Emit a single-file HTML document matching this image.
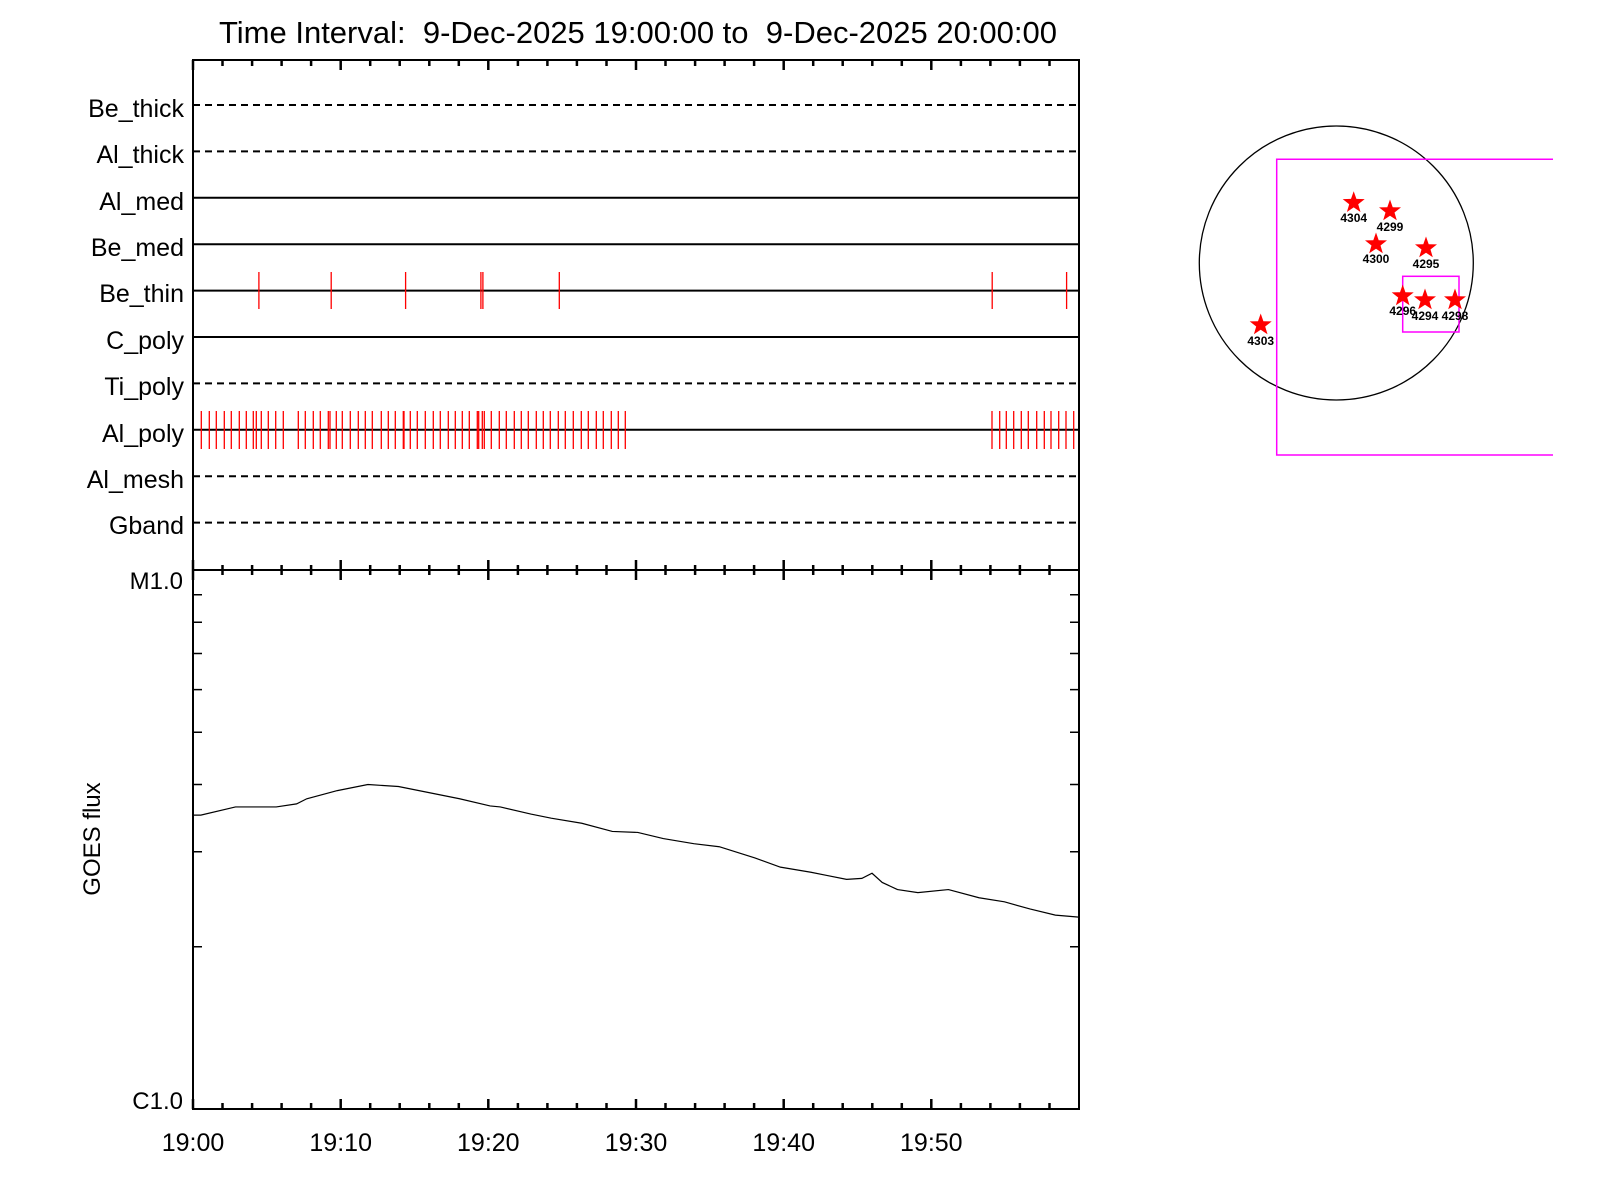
<!DOCTYPE html>
<html><head><meta charset="utf-8"><style>
html,body{margin:0;padding:0;background:#fff;}
svg{display:block;font-family:"Liberation Sans",sans-serif;}
</style></head><body>
<svg width="1600" height="1200" viewBox="0 0 1600 1200" xmlns="http://www.w3.org/2000/svg">
<defs>
<polygon id="star" points="0,-11.5 2.7,-3.8 11,-3.6 4.5,1.5 6.8,9.3 0,4.7 -6.8,9.3 -4.5,1.5 -11,-3.6 -2.7,-3.8"/>
</defs>
<rect width="1600" height="1200" fill="#fff"/>
<text x="219" y="43" font-size="31" textLength="838" lengthAdjust="spacingAndGlyphs">Time Interval:&#160; 9-Dec-2025 19:00:00 to&#160; 9-Dec-2025 20:00:00</text>
<g font-size="25" text-anchor="end">
<text x="184" y="117">Be_thick</text>
<text x="184" y="163">Al_thick</text>
<text x="184" y="210">Al_med</text>
<text x="184" y="256">Be_med</text>
<text x="184" y="302">Be_thin</text>
<text x="184" y="349">C_poly</text>
<text x="184" y="395">Ti_poly</text>
<text x="184" y="442">Al_poly</text>
<text x="184" y="488">Al_mesh</text>
<text x="184" y="534">Gband</text>
</g>
<g stroke="#000" stroke-width="2" fill="none">
<line x1="193" y1="105" x2="1079" y2="105" stroke-dasharray="7,5"/>
<line x1="193" y1="151.4" x2="1079" y2="151.4" stroke-dasharray="7,5"/>
<line x1="193" y1="197.8" x2="1079" y2="197.8"/>
<line x1="193" y1="244.2" x2="1079" y2="244.2"/>
<line x1="193" y1="290.6" x2="1079" y2="290.6"/>
<line x1="193" y1="337" x2="1079" y2="337"/>
<line x1="193" y1="383.4" x2="1079" y2="383.4" stroke-dasharray="7,5"/>
<line x1="193" y1="429.8" x2="1079" y2="429.8"/>
<line x1="193" y1="476.2" x2="1079" y2="476.2" stroke-dasharray="7,5"/>
<line x1="193" y1="522.6" x2="1079" y2="522.6" stroke-dasharray="7,5"/>
</g>
<g stroke="#f00" stroke-width="1.3">
<path d="M258.9 272V309M331.2 272V309M405.6 272V309M480.9 272V309M482.9 272V309M559.3 272V309M992.2 272V309M1066.6 272V309"/>
<path d="M193.3 411V449M201.3 411V449M209.3 411V449M216.3 411V449M224.3 411V449M231.3 411V449M239.3 411V449M246.3 411V449M253.3 411V449M256.3 411V449M261.3 411V449M268.3 411V449M275.7 411V449M283.3 411V449M298.3 411V449M305.3 411V449M313.3 411V449M320.3 411V449M328.3 411V449M330 411V449M336.3 411V449M342.3 411V449M350.3 411V449M358.3 411V449M365.3 411V449M372.3 411V449M381.3 411V449M388.3 411V449M395.3 411V449M403.3 411V449M404 411V449M410.3 411V449M417.3 411V449M425.3 411V449M433.3 411V449M440.3 411V449M448.3 411V449M455.3 411V449M462.3 411V449M469.3 411V449M477.3 411V449M478.7 411V449M482.3 411V449M484.3 411V449M491.3 411V449M499.3 411V449M506.3 411V449M514.3 411V449M521.3 411V449M528.3 411V449M536.3 411V449M543.3 411V449M550.3 411V449M558.3 411V449M565.3 411V449M573.3 411V449M581.3 411V449M588.3 411V449M596.3 411V449M603.3 411V449M611.3 411V449M618.3 411V449M625.3 411V449"/>
<path d="M992 411V449M999.7 411V449M1006.3 411V449M1013.7 411V449M1021.3 411V449M1028.3 411V449M1036.7 411V449M1044.3 411V449M1051 411V449M1058.7 411V449M1066 411V449M1073.7 411V449"/>
</g>
<g stroke="#000" stroke-width="2" fill="none">
<rect x="193" y="60" width="886" height="1049"/>
<line x1="193" y1="570" x2="1079" y2="570"/>
</g>
<g stroke="#000" stroke-width="2.5" fill="none">
<path d="M193 60v10M222.5 60v6M252.1 60v6M281.6 60v6M311.1 60v6M340.7 60v10M370.2 60v6M399.7 60v6M429.3 60v6M458.8 60v6M488.3 60v10M517.9 60v6M547.4 60v6M576.9 60v6M606.5 60v6M636 60v10M665.5 60v6M695.1 60v6M724.6 60v6M754.1 60v6M783.7 60v10M813.2 60v6M842.7 60v6M872.3 60v6M901.8 60v6M931.3 60v10M960.9 60v6M990.4 60v6M1019.9 60v6M1049.5 60v6"/>
<path d="M193 560v20M222.5 565v10M252.1 565v10M281.6 565v10M311.1 565v10M340.7 560v20M370.2 565v10M399.7 565v10M429.3 565v10M458.8 565v10M488.3 560v20M517.9 565v10M547.4 565v10M576.9 565v10M606.5 565v10M636 560v20M665.5 565v10M695.1 565v10M724.6 565v10M754.1 565v10M783.7 560v20M813.2 565v10M842.7 565v10M872.3 565v10M901.8 565v10M931.3 560v20M960.9 565v10M990.4 565v10M1019.9 565v10M1049.5 565v10"/>
<path d="M193 1109v-10M222.5 1109v-6M252.1 1109v-6M281.6 1109v-6M311.1 1109v-6M340.7 1109v-10M370.2 1109v-6M399.7 1109v-6M429.3 1109v-6M458.8 1109v-6M488.3 1109v-10M517.9 1109v-6M547.4 1109v-6M576.9 1109v-6M606.5 1109v-6M636 1109v-10M665.5 1109v-6M695.1 1109v-6M724.6 1109v-6M754.1 1109v-6M783.7 1109v-10M813.2 1109v-6M842.7 1109v-6M872.3 1109v-6M901.8 1109v-6M931.3 1109v-10M960.9 1109v-6M990.4 1109v-6M1019.9 1109v-6M1049.5 1109v-6"/>
</g>
<g stroke="#000" stroke-width="1.5" fill="none">
<path d="M193 946.7h9M193 851.8h9M193 784.5h9M193 732.2h9M193 689.6h9M193 653.5h9M193 622.2h9M193 594.7h9"/>
<path d="M1079 946.7h-9M1079 851.8h-9M1079 784.5h-9M1079 732.2h-9M1079 689.6h-9M1079 653.5h-9M1079 622.2h-9M1079 594.7h-9"/>
</g>
<text x="183" y="589" font-size="24" text-anchor="end">M1.0</text>
<text x="183" y="1109" font-size="24" text-anchor="end">C1.0</text>
<text x="100" y="839" font-size="24" text-anchor="middle" transform="rotate(-90 100 839)">GOES flux</text>
<g font-size="25" text-anchor="middle">
<text x="193" y="1151">19:00</text>
<text x="340.7" y="1151">19:10</text>
<text x="488.3" y="1151">19:20</text>
<text x="636" y="1151">19:30</text>
<text x="783.7" y="1151">19:40</text>
<text x="931.3" y="1151">19:50</text>
</g>
<g transform="matrix(1.0185,0,0,1.0204,1.222,-0.204)">
<polyline fill="none" stroke="#000" stroke-width="1.2" vector-effect="non-scaling-stroke" points="188,799 196,799 230,791 270,791 290,788 300,783 330,775 360,769 390,771 420,777 450,783 480,790 490,791 520,798 540,802 570,807 600,815 625,816 650,822 680,827 705,830 740,841 765,850 795,855 810,858 830,862 845,861 855,856 865,865 880,872 900,875 930,872 960,880 985,884 1010,891 1035,897 1058,899"/>
</g>
<circle cx="1336.3" cy="263" r="137" fill="none" stroke="#000" stroke-width="1.3"/>
<path d="M1553 159.3H1276.7V455H1553" fill="none" stroke="#f0f" stroke-width="1.5"/>
<rect x="1402.7" y="276.3" width="56.3" height="55.7" fill="none" stroke="#f0f" stroke-width="1.5"/>
<g fill="#f00">
<use href="#star" x="1353.7" y="202.7"/>
<use href="#star" x="1390" y="211"/>
<use href="#star" x="1376" y="244"/>
<use href="#star" x="1426" y="248"/>
<use href="#star" x="1402.7" y="296"/>
<use href="#star" x="1425" y="300"/>
<use href="#star" x="1455" y="300"/>
<use href="#star" x="1260.7" y="325"/>
</g>
<g font-size="12" font-weight="bold" text-anchor="middle" fill="#000">
<text x="1353.7" y="222">4304</text>
<text x="1390" y="231">4299</text>
<text x="1376" y="263">4300</text>
<text x="1426" y="268">4295</text>
<text x="1402.7" y="315">4296</text>
<text x="1425" y="320">4294</text>
<text x="1455" y="320">4298</text>
<text x="1260.7" y="345">4303</text>
</g>
</svg>
</body></html>
